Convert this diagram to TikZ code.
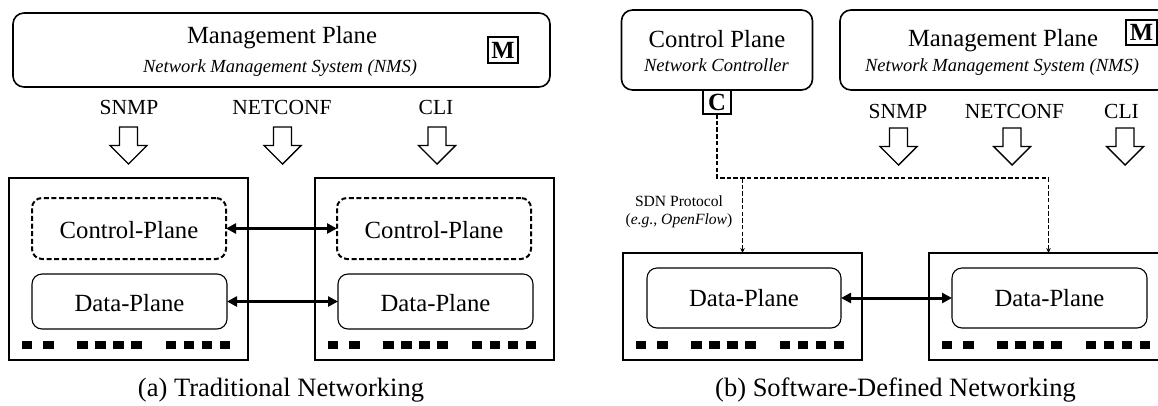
\documentclass[tikz,border=0pt]{standalone}
\usepackage{fontspec}
\setmainfont{Liberation Serif}
\usetikzlibrary{arrows.meta}
\begin{document}
\begin{tikzpicture}[x=1pt,y=-1pt,
  every node/.style={inner sep=0pt, outer sep=0pt},
  planebox/.style={draw, line width=1.6pt, rounded corners=11pt},
  devbox/.style={draw, line width=1.8pt},
  ctrlbox/.style={draw, line width=2pt, dash pattern=on 5pt off 2.6pt, rounded corners=10pt},
  databox/.style={draw, line width=1.1pt, rounded corners=10pt},
  tagbox/.style={draw, line width=1.1pt, font=\fontsize{24.7}{28}\selectfont\bfseries},
  bigtxt/.style={anchor=base, font=\fontsize{24.7}{28}\selectfont},
  subtxt/.style={anchor=base, font=\fontsize{18.5}{21}\selectfont\itshape},
  prototxt/.style={anchor=base, font=\fontsize{21.5}{25}\selectfont},
  captxt/.style={anchor=base, font=\fontsize{26.5}{30}\selectfont},
  notetxt/.style={align=center, font=\fontsize{15.6}{17.8}\selectfont},
  linkarrow/.style={line width=3pt, {Triangle[length=10pt,width=10pt]}-{Triangle[length=10pt,width=10pt]}},
  sdnline/.style={line width=1.6pt, dash pattern=on 4.5pt off 2.2pt, -{Stealth[length=5pt,width=4.5pt]}},
  blockdown/.pic={\draw[line width=1.4pt, line join=miter, fill=white]
     (-9,0) -- (9,0) -- (9,18.5) -- (18.5,18.5) -- (0,37) -- (-18.5,18.5) -- (-9,18.5) -- cycle;},
  ports/.pic={\foreach \px in {12.5,34,68,86,104,122,156.5,174.5,192.5,210.5}
     \fill (\px,-19.5) rectangle ++(10.5,8.5);}
]
\path[use as bounding box] (0,0) rectangle (1158,405);
\clip (0,0) rectangle (1158,405);
\fill[white] (0,0) rectangle (1158,405);

% ---------------- (a) traditional networking ----------------
\node[planebox, minimum width=537pt, minimum height=74pt] (mgmtA) at (281.5,50) {};
\node[bigtxt] (mgmtAtitle) at (282,43.5) {Management Plane};
\node[subtxt] (mgmtAsub) at (280,72) {Network Management System (NMS)};
\node[tagbox, minimum width=30pt, minimum height=26pt] (tagMA) at (503,50) {M};

\node[prototxt] (snmpA) at (129,114.3) {SNMP};
\node[prototxt] (netconfA) at (282,114.3) {NETCONF};
\node[prototxt] (cliA) at (436,114.3) {CLI};
\pic (arrSnmpA) at (128.5,127) {blockdown};
\pic (arrNetconfA) at (282.5,127) {blockdown};
\pic (arrCliA) at (437,127) {blockdown};

\node[devbox, minimum width=239pt, minimum height=182pt] (devA) at (128.5,269) {};
\node[devbox, minimum width=239pt, minimum height=182pt] (devB) at (434.5,269) {};

\node[ctrlbox, minimum width=194pt, minimum height=61pt] (ctrlA) at (129,228.5) {};
\node[ctrlbox, minimum width=194pt, minimum height=61pt] (ctrlB) at (434,228.5) {};
\node[bigtxt] (ctrlAtxt) at (129,238.3) {Control-Plane};
\node[bigtxt] (ctrlBtxt) at (434,238.3) {Control-Plane};

\node[databox, minimum width=195pt, minimum height=55pt] (dataA) at (129.5,301.5) {};
\node[databox, minimum width=195pt, minimum height=55pt] (dataB) at (435.5,301.5) {};
\node[bigtxt] (dataAtxt) at (129.5,311) {Data-Plane};
\node[bigtxt] (dataBtxt) at (435.5,311) {Data-Plane};

\draw[linkarrow] (ctrlA.east) -- (ctrlB.west);
\draw[linkarrow] (dataA.east) -- (dataB.west);

\pic (portsA) at (devA.south west) {ports};
\pic (portsB) at (devB.south west) {ports};

\node[captxt] (capA) at (281,396) {(a) Traditional Networking};

% ---------------- (b) software-defined networking ----------------
\node[planebox, minimum width=191pt, minimum height=80pt] (ctrlPlane) at (717,50) {};
\node[bigtxt] (ctrlPlaneTitle) at (717,47.7) {Control Plane};
\node[subtxt] (ctrlPlaneSub) at (716.5,71.7) {Network Controller};
\node[tagbox, minimum width=28pt, minimum height=24pt] (tagC) at (717,102) {C};

\node[planebox, minimum width=328pt, minimum height=80pt] (mgmtB) at (1004,50) {};
\node[bigtxt] (mgmtBtitle) at (1003,46.7) {Management Plane};
\node[subtxt] (mgmtBsub) at (1002,71.7) {Network Management System (NMS)};
\node[tagbox, minimum width=31pt, minimum height=25pt] (tagMB) at (1141.5,32.5) {M};

\node[prototxt] (snmpB) at (898,118.3) {SNMP};
\node[prototxt] (netconfB) at (1014.5,118.3) {NETCONF};
\node[prototxt] (cliB) at (1121.5,118.3) {CLI};
\pic (arrSnmpB) at (898.5,128) {blockdown};
\pic (arrNetconfB) at (1012,128) {blockdown};
\pic (arrCliB) at (1125,128) {blockdown};

\node[devbox, minimum width=239pt, minimum height=107pt] (devC) at (742.5,306.5) {};
\node[devbox, minimum width=239pt, minimum height=107pt] (devD) at (1048.5,306.5) {};
\node[databox, minimum width=194pt, minimum height=60pt] (dataC) at (744,298) {};
\node[databox, minimum width=195pt, minimum height=60pt] (dataD) at (1049.5,298) {};
\node[bigtxt] (dataCtxt) at (744,306.7) {Data-Plane};
\node[bigtxt] (dataDtxt) at (1049.5,306.7) {Data-Plane};

\draw[linkarrow] (dataC.east) -- (dataD.west);

\pic (portsC) at (devC.south west) {ports};
\pic (portsD) at (devD.south west) {ports};

% southbound protocol bus from the controller down to both switches
\coordinate (bus) at (0,178);
\draw[sdnline] (tagC.south) -- (tagC.south |- bus) -| (devD.north);
\draw[sdnline] (devC.north |- bus) -- (devC.north);
\node[notetxt] (sdnNote) at (679,211.5) {SDN Protocol\\(\textit{e.g.}, \textit{OpenFlow})};

\node[captxt] (capB) at (895.5,396) {(b) Software-Defined Networking};
\end{tikzpicture}
\end{document}
